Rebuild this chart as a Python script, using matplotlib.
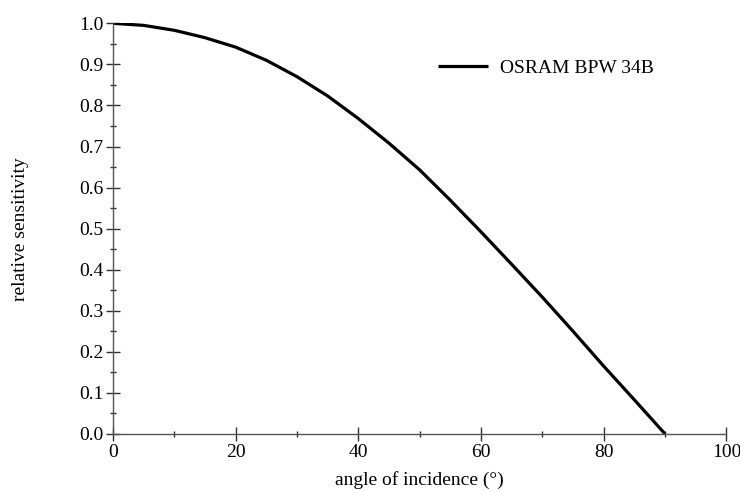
import numpy as np
import matplotlib
matplotlib.use("Agg")
import matplotlib.pyplot as plt
from matplotlib.ticker import MultipleLocator

plt.rcParams['font.family'] = ['Liberation Serif', 'DejaVu Serif']

# values
angle = [0, 5, 10, 15, 20, 25, 30, 35, 40, 45, 50, 55, 60, 65, 70, 75, 80, 85, 90]
sensitivity = [1.0, 0.995, 0.983, 0.965, 0.942, 0.910, 0.870, 0.823, 0.768, 0.708,
               0.643, 0.569, 0.492, 0.413, 0.333, 0.250, 0.165, 0.083, 0.0]
series_label = "OSRAM BPW 34B"

fig = plt.figure(figsize=(7.4, 4.91), dpi=100)
ax = fig.add_axes([0.1527, 0.1161, 0.829, 0.8364])

ax.plot(angle, sensitivity, color='black', lw=2.3, label=series_label,
        solid_capstyle='butt', solid_joinstyle='round')

ax.set_xlim(0, 100)
ax.set_ylim(0, 1.0)
ax.xaxis.set_major_locator(MultipleLocator(20))
ax.xaxis.set_minor_locator(MultipleLocator(10))
ax.yaxis.set_major_locator(MultipleLocator(0.1))
ax.yaxis.set_minor_locator(MultipleLocator(0.05))
ax.yaxis.set_major_formatter(matplotlib.ticker.FormatStrFormatter('%.1f'))

for s in ['top', 'right']:
    ax.spines[s].set_visible(False)
for s in ['left', 'bottom']:
    ax.spines[s].set_color('#555555')
    ax.spines[s].set_linewidth(1.0)

ax.tick_params(which='major', direction='inout', length=10, width=1.0,
               color='#333333', labelsize=14, pad=2)
ax.tick_params(which='minor', direction='inout', length=5, width=1.0,
               color='#333333')

ax.set_xlabel('angle of incidence (°)', fontsize=14, labelpad=7.5)
ax.set_ylabel('relative sensitivity', fontsize=14, labelpad=36)

ax.legend(loc='upper left', bbox_to_anchor=(0.501, 0.956), frameon=False,
          fontsize=14, handlelength=2.6, handletextpad=0.6)

fig.savefig('out.png', dpi=100)
